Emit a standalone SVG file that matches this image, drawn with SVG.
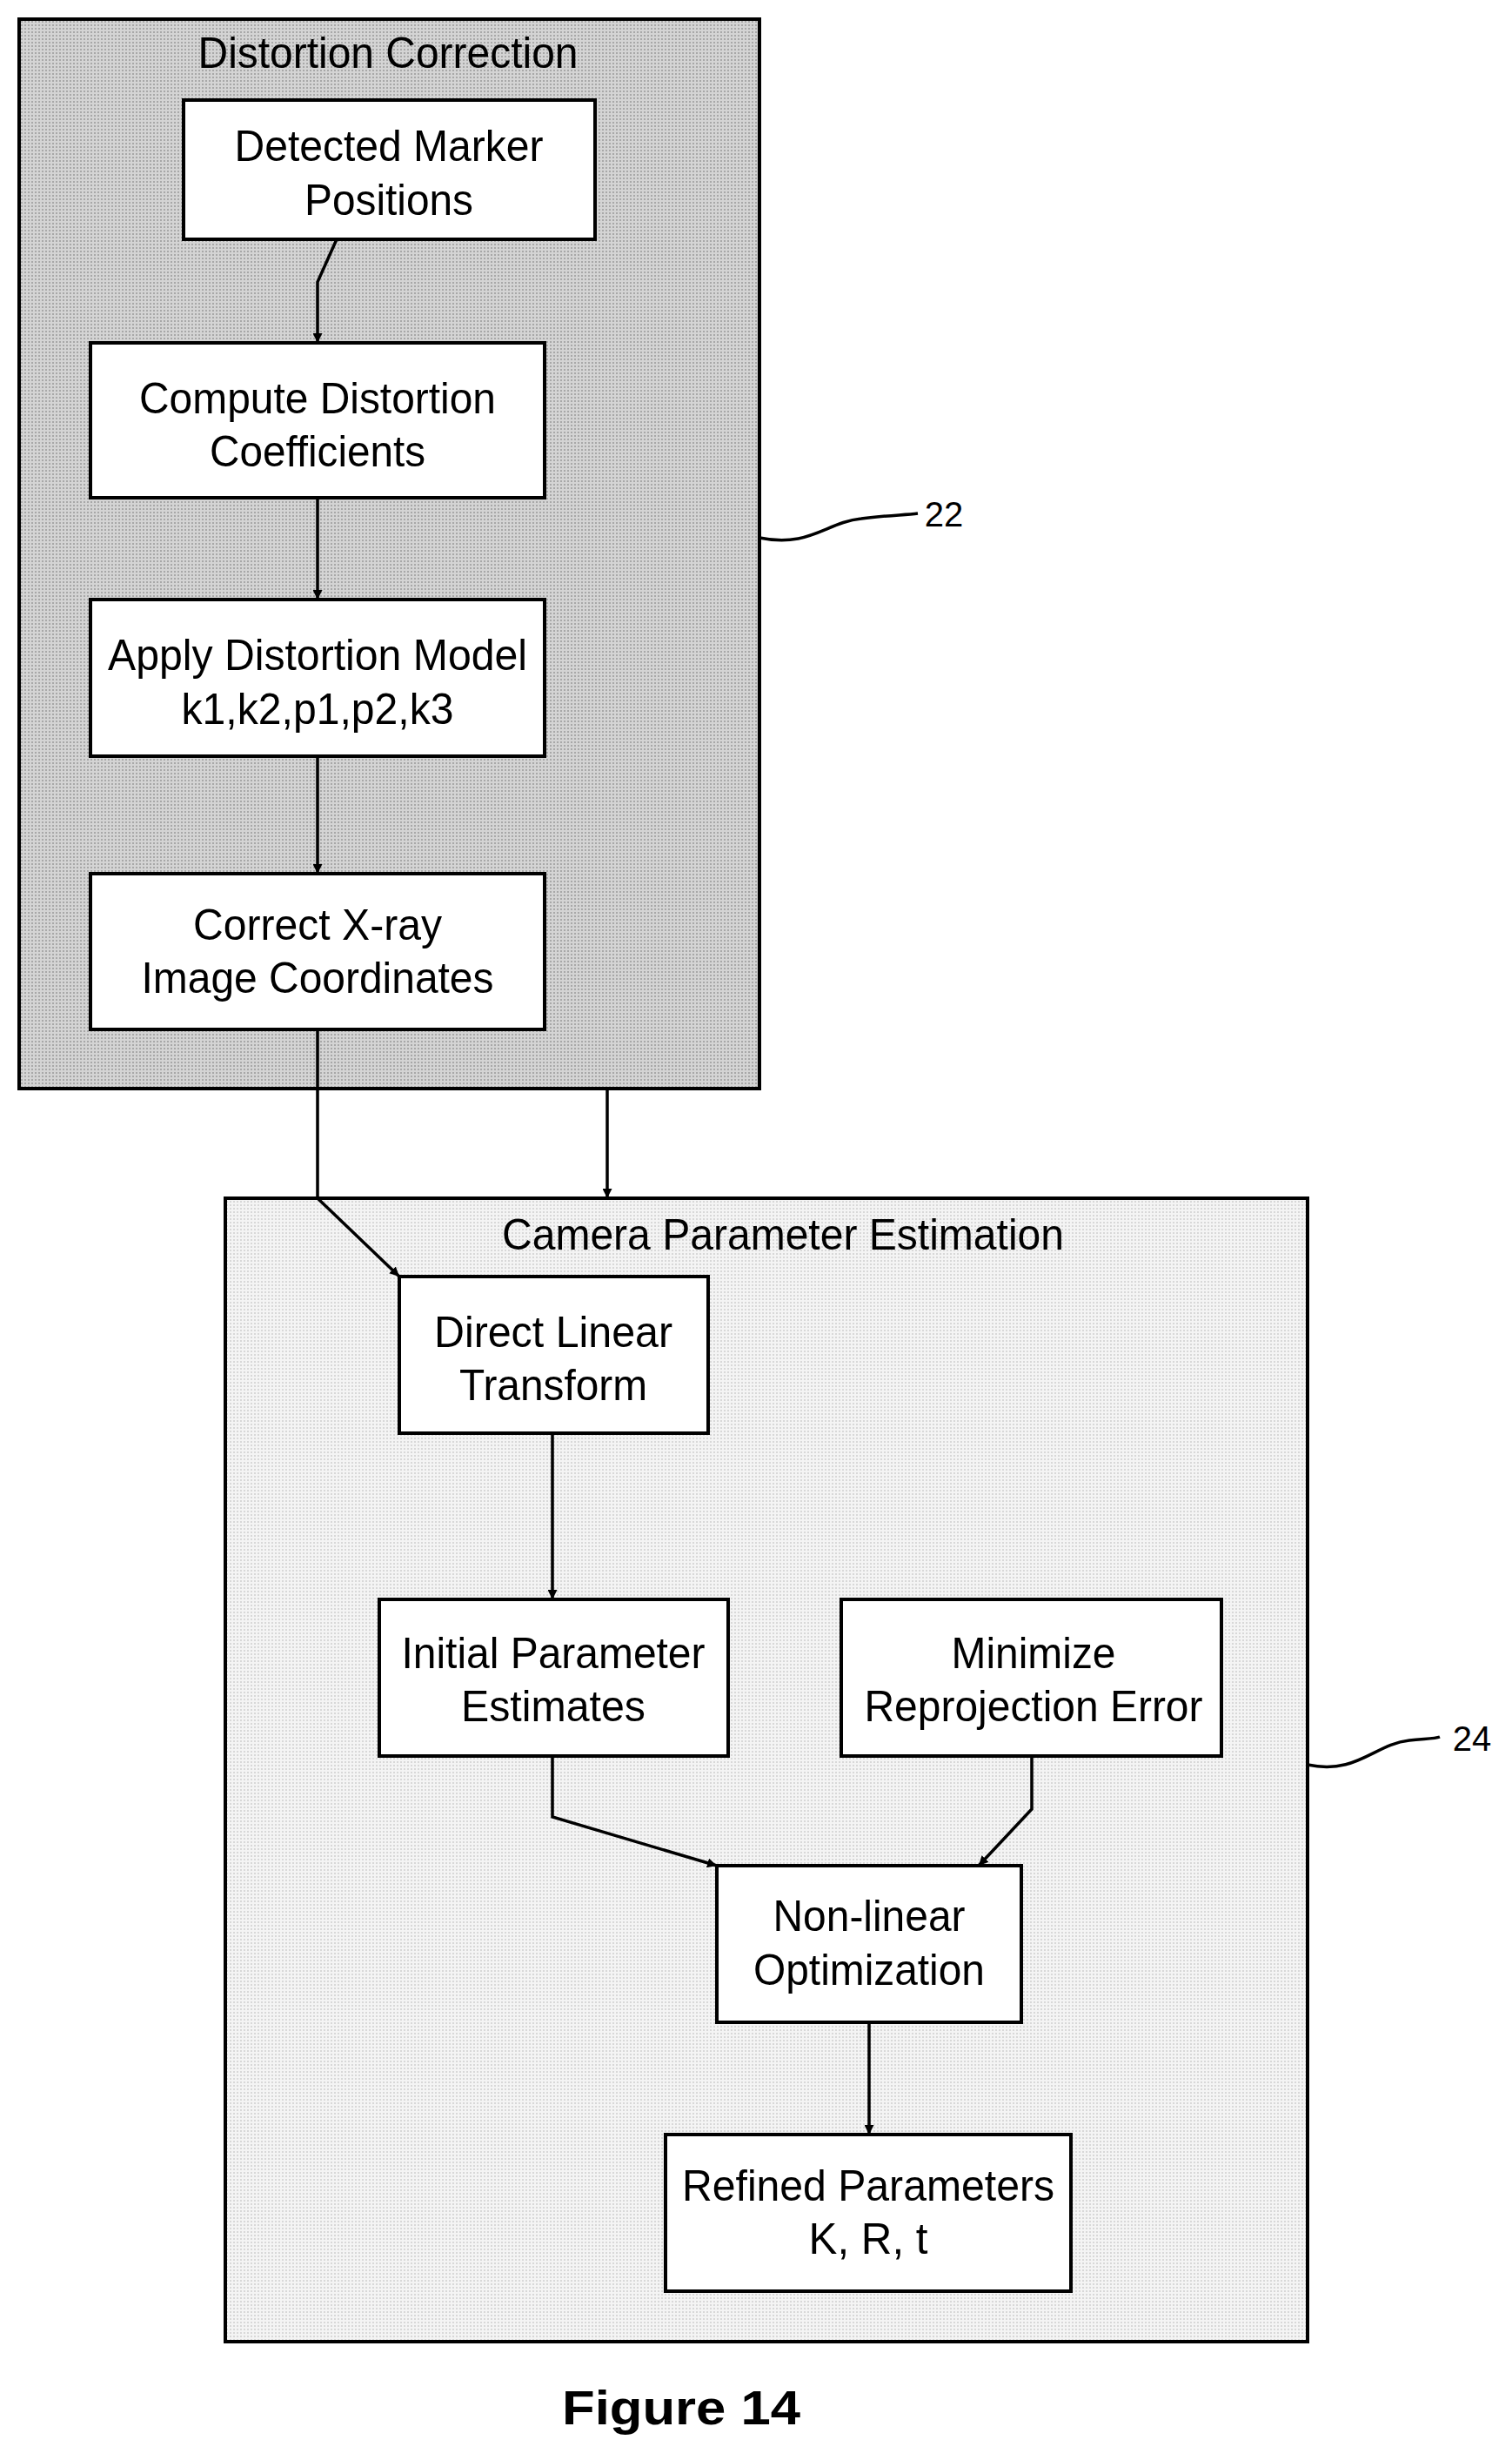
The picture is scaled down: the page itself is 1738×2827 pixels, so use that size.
<svg xmlns="http://www.w3.org/2000/svg" width="1738" height="2827" viewBox="0 0 1738 2827">
<style>
.t{font-family:"Liberation Sans",Arial,sans-serif;font-size:50px;fill:#000;text-anchor:middle}
.n{fill:#fff;stroke:#000;stroke-width:4}
.c{fill:none;stroke:#000;stroke-width:3.5}
</style>
<defs>
<pattern id="dots" width="4" height="4" patternUnits="userSpaceOnUse"><rect width="4" height="4" fill="#d4d4d4"/><rect width="2" height="2" fill="#a8a8a8"/></pattern>
<pattern id="dots2" width="4" height="4" patternUnits="userSpaceOnUse"><rect width="4" height="4" fill="#f4f4f4"/><rect width="2" height="2" fill="#d8d8d8"/></pattern>
<marker id="a" viewBox="0 0 10 10" refX="10" refY="5" markerWidth="11" markerHeight="11" markerUnits="userSpaceOnUse" orient="auto"><path d="M0,0L10,5L0,10z" fill="#000"/></marker>
</defs>
<rect width="1738" height="2827" fill="#fff"/>
<g id="group22"><rect x="22" y="22" width="851" height="1229" fill="url(#dots)" stroke="#000" stroke-width="4"/>
<text class="t" x="446" y="78" textLength="437" lengthAdjust="spacingAndGlyphs">Distortion Correction</text></g>
<g id="group24"><rect x="259" y="1377" width="1244" height="1314" fill="url(#dots2)" stroke="#000" stroke-width="4"/>
<text class="t" x="900" y="1436" textLength="646" lengthAdjust="spacingAndGlyphs">Camera Parameter Estimation</text></g>
<g id="n1"><rect class="n" x="211" y="115" width="473" height="160"/>
<text class="t" x="447" y="185" textLength="355" lengthAdjust="spacingAndGlyphs">Detected Marker</text>
<text class="t" x="447" y="247" textLength="194" lengthAdjust="spacingAndGlyphs">Positions</text></g>
<g id="n2"><rect class="n" x="104" y="394" width="522" height="178"/>
<text class="t" x="365" y="475" textLength="410" lengthAdjust="spacingAndGlyphs">Compute Distortion</text>
<text class="t" x="365" y="536" textLength="248" lengthAdjust="spacingAndGlyphs">Coefficients</text></g>
<g id="n3"><rect class="n" x="104" y="689" width="522" height="180"/>
<text class="t" x="365" y="770" textLength="482" lengthAdjust="spacingAndGlyphs">Apply Distortion Model</text>
<text class="t" x="365" y="832" textLength="313" lengthAdjust="spacingAndGlyphs">k1,k2,p1,p2,k3</text></g>
<g id="n4"><rect class="n" x="104" y="1004" width="522" height="179"/>
<text class="t" x="365" y="1080" textLength="286" lengthAdjust="spacingAndGlyphs">Correct X-ray</text>
<text class="t" x="365" y="1141" textLength="405" lengthAdjust="spacingAndGlyphs">Image Coordinates</text></g>
<g id="n5"><rect class="n" x="459" y="1467" width="355" height="180"/>
<text class="t" x="636" y="1548" textLength="274" lengthAdjust="spacingAndGlyphs">Direct Linear</text>
<text class="t" x="636" y="1609" textLength="216" lengthAdjust="spacingAndGlyphs">Transform</text></g>
<g id="n6"><rect class="n" x="436" y="1838" width="401" height="180"/>
<text class="t" x="636" y="1917" textLength="349" lengthAdjust="spacingAndGlyphs">Initial Parameter</text>
<text class="t" x="636" y="1978" textLength="212" lengthAdjust="spacingAndGlyphs">Estimates</text></g>
<g id="n7"><rect class="n" x="967" y="1838" width="437" height="180"/>
<text class="t" x="1188" y="1917" textLength="189" lengthAdjust="spacingAndGlyphs">Minimize</text>
<text class="t" x="1188" y="1978" textLength="389" lengthAdjust="spacingAndGlyphs">Reprojection Error</text></g>
<g id="n8"><rect class="n" x="824" y="2144" width="350" height="180"/>
<text class="t" x="999" y="2219" textLength="221" lengthAdjust="spacingAndGlyphs">Non-linear</text>
<text class="t" x="999" y="2281" textLength="266" lengthAdjust="spacingAndGlyphs">Optimization</text></g>
<g id="n9"><rect class="n" x="765" y="2453" width="466" height="180"/>
<text class="t" x="998" y="2529" textLength="428" lengthAdjust="spacingAndGlyphs">Refined Parameters</text>
<text class="t" x="998" y="2590" textLength="137" lengthAdjust="spacingAndGlyphs">K, R, t</text></g>
<g id="connectors">
<path class="c" d="M387,275 L365,324 L365,394" marker-end="url(#a)"/>
<path class="c" d="M365,572 L365,689" marker-end="url(#a)"/>
<path class="c" d="M365,869 L365,1004" marker-end="url(#a)"/>
<path class="c" d="M365,1183 L365,1377 L459,1467" marker-end="url(#a)"/>
<path class="c" d="M698,1251 L698,1377" marker-end="url(#a)"/>
<path class="c" d="M635,1647 L635,1838" marker-end="url(#a)"/>
<path class="c" d="M635,2018 L635,2088 L824,2144" marker-end="url(#a)"/>
<path class="c" d="M1186,2018 L1186,2079 L1125,2144" marker-end="url(#a)"/>
<path class="c" d="M999,2324 L999,2453" marker-end="url(#a)"/>
<path class="c" stroke-width="3" d="M873,618 C930,630 950,600 990,596 C1020,592 1040,592 1055,590"/>
<path class="c" stroke-width="3" d="M1503,2028 C1560,2040 1580,2004 1620,2000 C1640,1998 1650,1998 1655,1996"/>
</g>
<text class="t" x="1085" y="605" style="font-size:40px">22</text>
<text class="t" x="1692" y="2012" style="font-size:40px">24</text>
<text class="t" x="783" y="2786" style="font-weight:bold;font-size:56px" textLength="274" lengthAdjust="spacingAndGlyphs">Figure 14</text>
</svg>
